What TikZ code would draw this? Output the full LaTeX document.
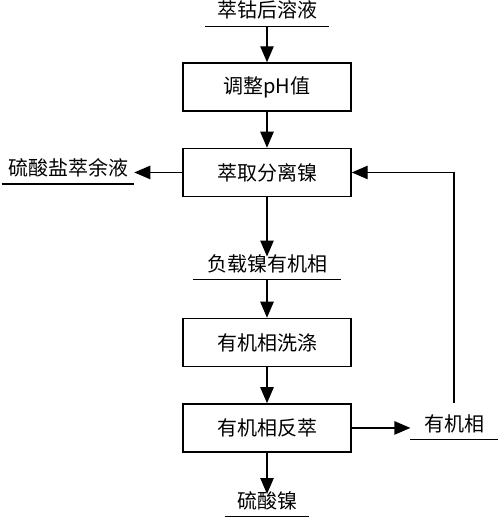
\documentclass[tikz,border=0pt]{standalone}
\usepackage{fontspec}
\newfontfamily\cjk{Noto Sans CJK SC}
\usetikzlibrary{arrows.meta}
\usetikzlibrary{positioning}
\tikzset {
  flow path/.style = {
    draw = black,
    line width = 1.1pt
  },
  % path style with a filled arrow at its end
  arr/.style = {
    flow path,
    -{Triangle[length = 12pt, width = 10pt]}
  }
}
\tikzset {
  flow node/.style = {
    font = \cjk\fontsize{15}{18}\selectfont
  },
  % process step
  stepbox/.style = {
    flow node,
    draw = black,
    line width = 1.1pt,
    rectangle,
    minimum width = 126pt,
    minimum height = 36pt
  },
  % liquid or phase, underlined below
  stream/.style = {
    flow node,
    inner ysep = 0pt,
    inner xsep = 8.5pt,
    text height = 11pt,
    text depth = 6pt
  },
  node distance = 27pt
}
\begin{document}
\begin{tikzpicture}
    \useasboundingbox (0,0) rectangle (375pt,-387.75pt);

    \node[stream] (feed) at (200.25pt,-11pt) {萃钴后溶液};
    \node[stepbox] (ph) [below=of feed] {调整pH值};
    \node[stepbox] (extract) [below=of ph] {萃取分离镍};
    \node[stream, inner xsep = 4.5pt] (raffinate) [left=36pt of extract] {硫酸盐萃余液};
    \node[stream, inner xsep = 10pt] (loaded) [below=44.5pt of extract] {负载镍有机相};
    \node[stepbox] (wash) [below=28.5pt of loaded] {有机相洗涤};
    \node[stepbox] (strip) [below=of wash] {有机相反萃};
    \node[stream, inner xsep = 9pt] (sulfate) [below=31pt of strip] {硫酸镍};
    \node[stream, inner xsep = 10pt] (organic) [right=44pt of strip] {有机相};

    % underlines of the streams
    \foreach \s in {feed, raffinate, loaded, sulfate, organic}
      \draw[flow path] (\s.south west) -- (\s.south east);

    \draw[arr] (feed) -- (ph);
    \draw[arr] (ph) -- (extract);
    \draw[arr] (extract) -- (raffinate);
    \draw[arr] (extract) -- (loaded);
    \draw[arr] (loaded) -- (wash);
    \draw[arr] (wash) -- (strip);
    \draw[arr] (strip) -- (sulfate);
    \draw[arr] (strip) -- (organic);

    % recycle of the stripped organic phase
    \draw[arr] ([yshift=10pt]organic.north)
      |- (extract.east);
\end{tikzpicture}
\end{document}
